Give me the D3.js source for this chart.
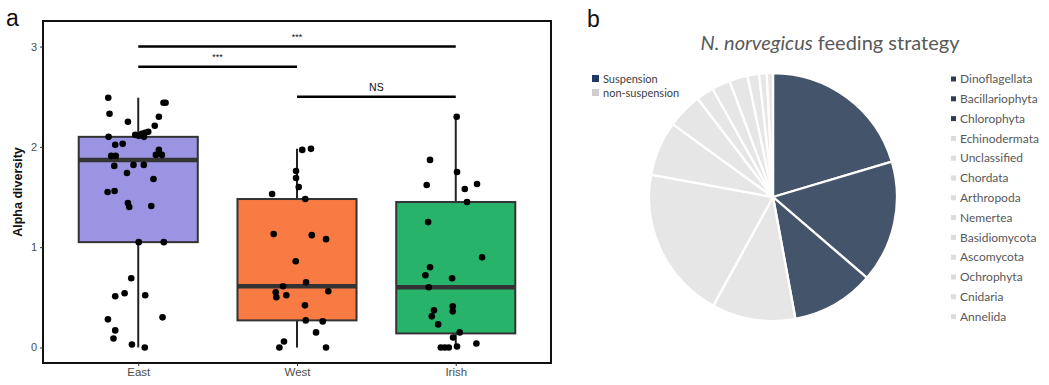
<!DOCTYPE html>
<html><head><meta charset="utf-8">
<script src="https://cdn.jsdelivr.net/npm/d3@7"></script>
<style>body{margin:0;background:#fff}svg{display:block}</style>
</head><body>
<svg id="c" width="1049" height="385"></svg>
<script>
// ---------- Panel a data ----------
const groups = ["East", "West", "Irish"];
const boxFill = ["#9b94e2", "#f77b43", "#28b36b"];
const whiskerLow = [0.00, 0.00, 0.00];
const q1 = [1.05, 0.27, 0.14];
const median = [1.87, 0.61, 0.60];
const q3 = [2.10, 1.48, 1.45];
const whiskerHigh = [2.49, 1.98, 2.30];
const yTicks = [0, 1, 2, 3];

const eastValues = [2.49,2.33,2.25,2.44,2.44,2.30,2.21,2.15,2.12,2.11,2.13,2.14,2.10,2.10,2.02,2.03,1.97,1.92,1.92,1.91,1.91,1.81,1.82,1.82,1.74,1.68,1.55,1.56,1.44,1.40,1.41,1.05,1.05,0.69,0.54,0.51,0.52,0.28,0.30,0.17,0.09,0.03,0.00];
const eastJitter = [-0.189,-0.181,-0.065,0.159,0.172,0.130,0.104,0.063,-0.019,0.003,0.023,0.042,0.036,-0.187,-0.145,-0.098,0.130,0.111,0.149,-0.170,-0.142,-0.151,-0.030,0.035,-0.071,0.096,-0.193,-0.149,-0.065,-0.057,0.082,0.003,0.161,-0.044,-0.086,-0.145,0.044,-0.191,0.153,-0.145,-0.156,-0.040,0.041];
const westValues = [1.97,1.98,1.76,1.69,1.60,1.53,1.48,1.13,1.12,1.08,0.86,0.65,0.61,0.55,0.50,0.52,0.56,0.42,0.27,0.26,0.15,0.06,0.00,0.00];
const westJitter = [0.033,0.088,-0.006,-0.006,0.011,-0.157,0.052,-0.147,0.093,0.183,-0.008,0.057,-0.088,-0.134,-0.130,-0.067,0.197,0.050,0.055,0.162,0.120,-0.082,-0.111,0.183];
const irishValues = [2.30,1.87,1.75,1.62,1.58,1.63,1.45,1.25,0.90,0.80,0.72,0.69,0.60,0.37,0.31,0.41,0.36,0.23,0.15,0.10,0.04,0.01,0.00,0.00,0.00];
const irishJitter = [0.006,-0.162,0.008,-0.183,0.057,0.134,0.071,-0.174,0.166,-0.162,-0.191,-0.023,-0.170,-0.137,-0.151,-0.019,-0.019,-0.111,0.025,-0.017,0.130,0.008,-0.094,-0.069,-0.044];

const compFrom = ["East", "East", "West"];
const compTo = ["Irish", "West", "Irish"];
const compLevel = [3.0, 2.8, 2.5];
const compLabel = ["***", "***", "NS"];

// ---------- Panel b data ----------
const phyla = ["Dinoflagellata","Bacillariophyta","Chlorophyta","Echinodermata","Unclassified","Chordata","Arthropoda","Nemertea","Basidiomycota","Ascomycota","Ochrophyta","Cnidaria","Annelida"];
const share = [20.4,15.9,10.8,10.9,19.9,7.1,4.6,2.3,2.4,2.4,1.5,1.0,0.8];
const strategy = ["Suspension","Suspension","Suspension","non-suspension","non-suspension","non-suspension","non-suspension","non-suspension","non-suspension","non-suspension","non-suspension","non-suspension","non-suspension"];
const strategies = ["Suspension", "non-suspension"];
const strategyColor = ["#44546a", "#e7e6e6"];
const strategyLegendColor = ["#203864", "#d0cece"];

const svg = d3.select("#c");

// ================= Panel a =================
const L = 43, R = 551, T = 21, B = 363;
const x = d3.scalePoint().domain(groups).range([L, R]).padding(0.6);
const step = x.step();
const y = d3.scaleLinear().domain([-0.155, 3.255]).range([B, T]);
const boxW = step * 0.75;

svg.append("text").attr("x", 6).attr("y", 26).attr("font-family", "Liberation Sans, Arial, sans-serif")
  .attr("font-size", 23).attr("fill", "#111").text("a");

const ga = svg.append("g");
const clipped = ga.append("g");

groups.forEach((g, i) => {
  clipped.append("line").attr("x1", x(g)).attr("x2", x(g))
    .attr("y1", y(whiskerLow[i])).attr("y2", y(whiskerHigh[i]))
    .attr("stroke", "#222").attr("stroke-width", 2);
  clipped.append("rect").attr("x", x(g) - boxW / 2).attr("width", boxW)
    .attr("y", y(q3[i])).attr("height", y(q1[i]) - y(q3[i]))
    .attr("fill", boxFill[i]).attr("stroke", "#333").attr("stroke-width", 2);
  clipped.append("line").attr("x1", x(g) - boxW / 2).attr("x2", x(g) + boxW / 2)
    .attr("y1", y(median[i])).attr("y2", y(median[i]))
    .attr("stroke", "#333").attr("stroke-width", 4.5);
});

const pts = [];
[[eastValues, eastJitter], [westValues, westJitter], [irishValues, irishJitter]].forEach(([vals, jit], i) => {
  vals.forEach((v, k) => pts.push({ g: groups[i], v, j: jit[k] }));
});
clipped.selectAll("circle.pt").data(pts).join("circle").attr("class", "pt")
  .attr("cx", d => x(d.g) + d.j * step).attr("cy", d => y(d.v)).attr("r", 3.3).attr("fill", "#000");

compFrom.forEach((f, i) => {
  const x1 = x(f), x2 = x(compTo[i]), yy = y(compLevel[i]);
  clipped.append("line").attr("x1", x1).attr("x2", x2).attr("y1", yy).attr("y2", yy)
    .attr("stroke", "#000").attr("stroke-width", 2.5);
  clipped.append("text").attr("x", (x1 + x2) / 2).attr("y", compLabel[i] === "NS" ? yy - 6 : yy - 7)
    .attr("text-anchor", "middle").attr("font-family", "Liberation Sans, Arial, sans-serif")
    .attr("font-size", compLabel[i] === "NS" ? 10.5 : 9).attr("fill", "#111").text(compLabel[i]);
});

ga.append("rect").attr("x", L).attr("y", T).attr("width", R - L).attr("height", B - T)
  .attr("fill", "none").attr("stroke", "#111").attr("stroke-width", 2);

const yAxis = ga.append("g").attr("transform", `translate(${L},0)`)
  .call(d3.axisLeft(y).tickValues(yTicks).tickFormat(d3.format("d")).tickSize(3).tickPadding(3));
yAxis.select(".domain").remove();
yAxis.selectAll("line").attr("stroke", "#333");
yAxis.selectAll("text").attr("font-family", "Liberation Sans, Arial, sans-serif").attr("font-size", 11).attr("fill", "#4d4d4d");

const xAxis = ga.append("g").attr("transform", `translate(0,${B})`)
  .call(d3.axisBottom(x).tickSize(3).tickPadding(2));
xAxis.select(".domain").remove();
xAxis.selectAll("line").attr("stroke", "#333");
xAxis.selectAll("text").attr("font-family", "Liberation Sans, Arial, sans-serif").attr("font-size", 11.5).attr("fill", "#4d4d4d");

svg.append("text").attr("transform", `translate(22,${(T + B) / 2}) rotate(-90)`)
  .attr("text-anchor", "middle").attr("font-family", "Liberation Sans, Arial, sans-serif")
  .attr("font-size", 12.5).attr("font-weight", "bold").attr("fill", "#111").text("Alpha diversity");

// ================= Panel b =================
const font2 = "Lato, 'Open Sans', sans-serif";
svg.append("text").attr("x", 587).attr("y", 27).attr("font-family", "Liberation Sans, Arial, sans-serif")
  .attr("font-size", 23).attr("fill", "#111").text("b");

const title = svg.append("text").attr("x", 830).attr("y", 50).attr("text-anchor", "middle")
  .attr("font-family", font2).attr("font-size", 20).attr("fill", "#595959");
title.append("tspan").attr("font-style", "italic").text("N. norvegicus");
title.append("tspan").text(" feeding strategy");

const colorOf = d3.scaleOrdinal().domain(strategies).range(strategyColor);
const legendColorOf = d3.scaleOrdinal().domain(strategies).range(strategyLegendColor);

const pieData = d3.pie().sort(null).value(d => d.v)(phyla.map((p, i) => ({ p, v: share[i], s: strategy[i] })));
const arc = d3.arc().innerRadius(0).outerRadius(124);
svg.append("g").attr("transform", "translate(773,197)")
  .selectAll("path").data(pieData).join("path")
  .attr("d", arc).attr("fill", d => colorOf(d.data.s))
  .attr("stroke", "#fff").attr("stroke-width", 2.3).attr("stroke-linejoin", "round");

const leg1 = svg.append("g").attr("transform", "translate(592,79)");
strategies.forEach((s, i) => {
  leg1.append("rect").attr("x", 0).attr("y", i * 14 - 4).attr("width", 7).attr("height", 7).attr("fill", legendColorOf(s));
  leg1.append("text").attr("x", 11).attr("y", i * 14).attr("dy", "0.35em")
    .attr("font-family", font2).attr("font-size", 11).attr("fill", "#404040").text(s);
});

const leg2 = svg.append("g").attr("transform", "translate(951,79)");
phyla.forEach((p, i) => {
  leg2.append("rect").attr("x", 0).attr("y", i * 19.8 - 2.5).attr("width", 5).attr("height", 5)
    .attr("fill", strategy[i] === "Suspension" ? "#2f3c52" : "#dcdcdc");
  leg2.append("text").attr("x", 9).attr("y", i * 19.8).attr("dy", "0.35em")
    .attr("font-family", font2).attr("font-size", 12).attr("fill", "#595959").text(p);
});
</script>
</body></html>
